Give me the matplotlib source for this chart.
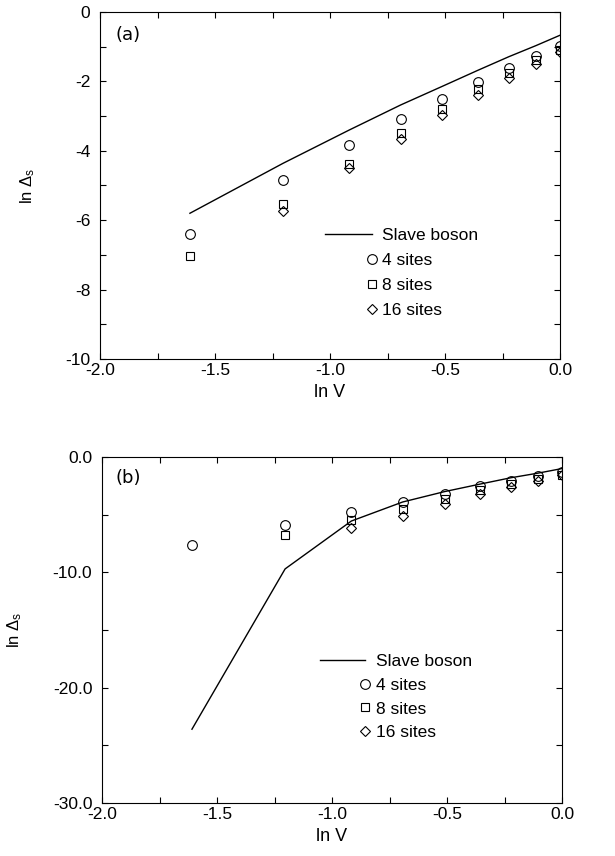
import numpy as np
import matplotlib
matplotlib.use("Agg")
import matplotlib.pyplot as plt
from matplotlib.legend_handler import HandlerLine2D
from matplotlib.ticker import MultipleLocator, FormatStrFormatter

plt.rcParams['font.family'] = ['Liberation Sans', 'DejaVu Sans']
plt.rcParams['mathtext.fontset'] = 'custom'
plt.rcParams['mathtext.rm'] = 'Liberation Sans'
plt.rcParams['mathtext.it'] = 'Liberation Sans'
plt.rcParams['axes.unicode_minus'] = False

# ---- data: ln V values ----
lnV = [-1.609, -1.204, -0.916, -0.693, -0.511, -0.357, -0.223, -0.105, 0.0]

# panel (a)
a_slave = [-5.80, -4.36, -3.40, -2.68, -2.14, -1.68, -1.29, -0.97, -0.67]
a_4 = [-6.39, -4.85, -3.84, -3.09, -2.51, -2.01, -1.60, -1.27, -0.97]
a_8 = [-7.04, -5.52, -4.37, -3.48, -2.81, -2.23, -1.77, -1.39, -1.10]
a_16_x = [-1.204, -0.916, -0.693, -0.511, -0.357, -0.223, -0.105, 0.0]
a_16 = [-5.73, -4.49, -3.67, -2.97, -2.38, -1.89, -1.49, -1.15]

# panel (b)
b_slave = [-23.6, -9.7, -5.55, -3.9, -3.0, -2.35, -1.8, -1.4, -1.0]
b_4 = [-7.60, -5.93, -4.81, -3.89, -3.18, -2.54, -2.08, -1.68, -1.33]
b_8_x = [-1.204, -0.916, -0.693, -0.511, -0.357, -0.223, -0.105, 0.0]
b_8 = [-6.74, -5.50, -4.50, -3.61, -2.89, -2.31, -1.88, -1.53]
b_16_x = [-0.916, -0.693, -0.511, -0.357, -0.223, -0.105, 0.0]
b_16 = [-6.18, -5.14, -4.10, -3.24, -2.60, -2.08, -1.59]

labels = ['Slave boson', '4 sites', '8 sites', '16 sites']


class RightMarker(HandlerLine2D):
    """Legend handler placing a single marker at the right end of the handle."""
    def get_xdata(self, legend, xdescent, ydescent, width, height, fontsize):
        x = -xdescent + width
        return [x, x], [x]


fig = plt.figure(figsize=(6.15, 8.56), dpi=100)
axa = fig.add_axes([0.1626, 0.5806, 0.748, 0.4054])
axb = fig.add_axes([0.1659, 0.0619, 0.748, 0.4042])

mk = dict(linestyle='none', markerfacecolor='none', markeredgecolor='black',
          markeredgewidth=0.8, color='black')


def draw(ax, slave, s4, x8, s8, x16, s16):
    l0, = ax.plot(lnV, slave, color='black', lw=1.0)
    l1, = ax.plot(lnV, s4, marker='o', markersize=7, **mk)
    l2, = ax.plot(x8, s8, marker='s', markersize=5.5, **mk)
    l3, = ax.plot(x16, s16, marker='D', markersize=4.8, **mk)
    return [l0, l1, l2, l3]


ha = draw(axa, a_slave, a_4, lnV, a_8, a_16_x, a_16)
hb = draw(axb, b_slave, b_4, b_8_x, b_8, b_16_x, b_16)

for ax in (axa, axb):
    ax.set_xlim(-2.0, 0.0)
    ax.xaxis.set_major_locator(MultipleLocator(0.5))
    ax.xaxis.set_minor_locator(MultipleLocator(0.25))
    ax.xaxis.set_major_formatter(FormatStrFormatter('%.1f'))
    ax.tick_params(which='both', direction='in', top=True, right=True,
                   labelsize=12.5, width=0.8, length=4)
    ax.tick_params(axis='x', pad=3)
    ax.tick_params(axis='y', pad=7)
    for s in ax.spines.values():
        s.set_linewidth(0.8)
    ax.set_xlabel('ln V', fontsize=13, labelpad=4)

axa.set_ylim(-10, 0)
axa.yaxis.set_major_locator(MultipleLocator(2))
axa.yaxis.set_minor_locator(MultipleLocator(1))
axa.yaxis.set_major_formatter(FormatStrFormatter('%d'))
axa.set_ylabel(r'ln $\Delta_{s}$', fontsize=12)
axa.yaxis.set_label_coords(-0.137, 0.5)

axb.set_ylim(-30, 0)
axb.yaxis.set_major_locator(MultipleLocator(10))
axb.yaxis.set_minor_locator(MultipleLocator(5))
axb.yaxis.set_major_formatter(FormatStrFormatter('%.1f'))
axb.set_ylabel(r'ln $\Delta_{s}$', fontsize=12)
axb.yaxis.set_label_coords(-0.17, 0.5)

axa.text(0.033, 0.934, '(a)', transform=axa.transAxes, fontsize=13,
         family='DejaVu Sans', va='center', ha='left')
axb.text(0.030, 0.938, '(b)', transform=axb.transAxes, fontsize=13,
         family='DejaVu Sans', va='center', ha='left')

hma = {h: RightMarker() for h in ha[1:]}
hmb = {h: RightMarker() for h in hb[1:]}
axa.legend(ha, labels, loc='center left', bbox_to_anchor=(0.489, 0.248),
           frameon=False, borderpad=0, borderaxespad=0, handlelength=2.7,
           handletextpad=0.6, labelspacing=0.56, fontsize=12.5, handler_map=hma)
axb.legend(hb, labels, loc='center left', bbox_to_anchor=(0.474, 0.306),
           frameon=False, borderpad=0, borderaxespad=0, handlelength=2.6,
           handletextpad=0.6, labelspacing=0.49, fontsize=12.5, handler_map=hmb)

fig.savefig('out.png', dpi=100)
